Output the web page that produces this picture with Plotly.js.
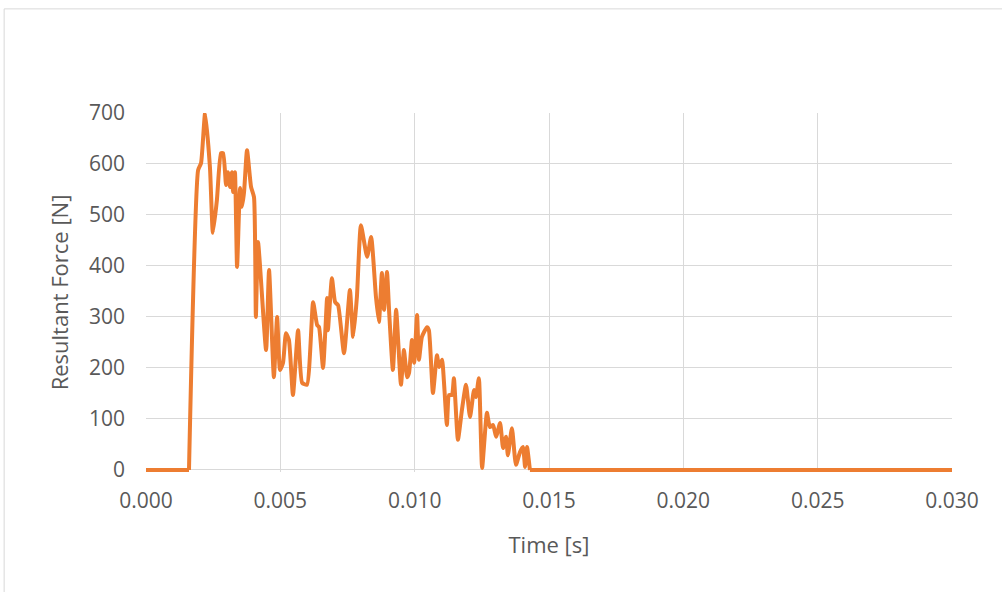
<!DOCTYPE html>
<html>
<head>
<meta charset="utf-8">
<script src="https://cdn.plot.ly/plotly-3.0.1.min.js"></script>
<style>html,body{margin:0;padding:0;background:#fff;}#chart{width:1002px;height:592px;}</style>
</head>
<body>
<div id="chart"></div>
<script>
const timeS = [0, 0.0016, 0.00194, 0.00205, 0.0022, 0.00238, 0.00249, 0.00264, 0.00279, 0.00287,
  0.00298, 0.00305, 0.00313, 0.0032, 0.00324, 0.00331, 0.00339, 0.0035, 0.00357, 0.00365,
  0.00376, 0.00391, 0.00402, 0.00409, 0.00417, 0.00447, 0.00458, 0.00476, 0.00488, 0.00499,
  0.0051, 0.00521, 0.00532, 0.00547, 0.00566, 0.00581, 0.00599, 0.00622, 0.00637, 0.00644,
  0.00659, 0.00674, 0.00677, 0.00692, 0.00704, 0.00715, 0.00737, 0.00759, 0.00771, 0.00785,
  0.008, 0.00823, 0.00838, 0.00856, 0.00867, 0.00878, 0.00886, 0.00897, 0.00905, 0.00919,
  0.00931, 0.00949, 0.0096, 0.00972, 0.00979, 0.0099, 0.00998, 0.01009, 0.01016, 0.01027,
  0.01046, 0.01053, 0.01068, 0.01083, 0.01091, 0.01102, 0.01109, 0.0112, 0.01128, 0.01139,
  0.01146, 0.01161, 0.01176, 0.01191, 0.01206, 0.01221, 0.01228, 0.01239, 0.01251, 0.01269,
  0.0128, 0.01292, 0.01303, 0.01318, 0.01329, 0.0134, 0.01347, 0.01362, 0.01377, 0.01392,
  0.01403, 0.01411, 0.01418, 0.01429, 0.03];
const forceN = [0, 0, 588, 602, 700, 594, 465, 530, 621, 621,
  559, 584, 555, 584, 545, 584, 398, 553, 516, 545,
  627, 555, 535, 300, 447, 235, 392, 182, 300, 196,
  210, 268, 255, 147, 274, 171, 167, 329, 284, 280,
  200, 337, 274, 376, 329, 323, 229, 353, 261, 339,
  480, 418, 457, 339, 290, 386, 314, 388, 310, 196,
  314, 167, 235, 182, 190, 255, 210, 304, 216, 261,
  280, 274, 151, 225, 202, 216, 173, 88, 147, 147,
  180, 59, 118, 167, 104, 157, 143, 180, 4, 112,
  84, 88, 65, 92, 43, 65, 29, 82, 10, 35,
  45, 6, 45, 0, 0];
const xTickVals = [0, 0.005, 0.010, 0.015, 0.020, 0.025, 0.030];
const xTickText = ['0.000', '0.005', '0.010', '0.015', '0.020', '0.025', '0.030'];
const yTickVals = [0, 100, 200, 300, 400, 500, 600, 700];

const font = 'Open Sans, Liberation Sans, sans-serif';
const grey = '#595959';
const orange = '#ED7D31';

// split where the signal leaves / returns to zero: flat parts straight, active part smoothed
const n = timeS.length;
const iStart = 1, iEnd = n - 2;
const seg = (a, b) => ({x: timeS.slice(a, b + 1), y: forceN.slice(a, b + 1)});
const pre = seg(0, iStart), act = seg(iStart, iEnd), post = seg(iEnd, n - 1);

const base = {type: 'scatter', mode: 'lines', hoverinfo: 'skip', showlegend: false};
Plotly.newPlot('chart', [
  Object.assign({}, base, pre, {line: {color: orange, width: 4}}),
  Object.assign({}, base, post, {line: {color: orange, width: 4}}),
  Object.assign({}, base, act, {line: {color: orange, width: 4, shape: 'spline', smoothing: 0.5}})
], {
  width: 1002, height: 592,
  margin: {l: 146, r: 50, t: 113, b: 120},
  paper_bgcolor: '#ffffff', plot_bgcolor: '#ffffff',
  font: {family: font, color: grey, size: 21},
  xaxis: {
    range: [0, 0.030], tickvals: xTickVals, ticktext: xTickText,
    showgrid: true, gridcolor: '#D9D9D9', gridwidth: 1,
    zeroline: false, showline: false, ticks: '',
    ticklabelstandoff: 14,
    tickfont: {family: font, size: 21, color: grey},
    title: {text: 'Time [s]', font: {family: font, size: 22, color: grey}, standoff: 24}
  },
  yaxis: {
    range: [-4, 700], tickvals: yTickVals,
    showgrid: true, gridcolor: '#D9D9D9', gridwidth: 1,
    zeroline: false, showline: false, ticks: '',
    ticklabelstandoff: 20,
    tickfont: {family: font, size: 21, color: grey},
    title: {text: 'Resultant Force [N]', font: {family: font, size: 22, color: grey}, standoff: 14}
  },
  shapes: [
    {type: 'line', xref: 'paper', yref: 'paper', x0: -0.176, x1: 1.1, y0: 1.29, y1: 1.29,
     line: {color: '#D9D9D9', width: 1}},
    {type: 'line', xref: 'paper', yref: 'paper', x0: -0.176, x1: -0.176, y0: 1.29, y1: -0.5,
     line: {color: '#D9D9D9', width: 1}}
  ]
}, {displayModeBar: false, staticPlot: true});
</script>
</body>
</html>
